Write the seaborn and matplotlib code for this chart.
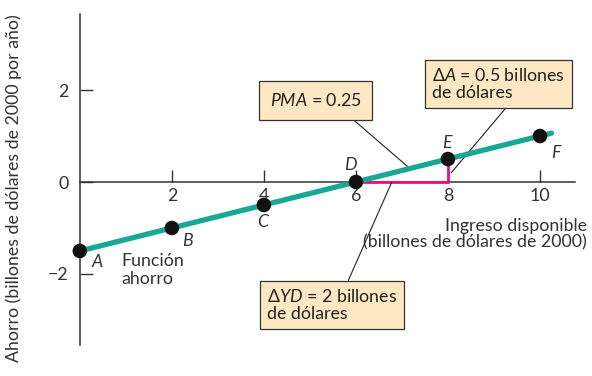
import numpy as np
import pandas as pd
import matplotlib.pyplot as plt
import seaborn as sns

# Savings function data (billions of 2000 dollars)
points = ["A", "B", "C", "D", "E", "F"]
income = [0, 2, 4, 6, 8, 10]
saving = [-1.5, -1.0, -0.5, 0.0, 0.5, 1.0]
x_ticks = [2, 4, 6, 8, 10]
y_ticks = [-2, 0, 2]

df = pd.DataFrame({"punto": points, "ingreso": income, "ahorro": saving})

sns.set_theme(style="white")
plt.rcParams["font.family"] = ["Lato", "DejaVu Sans"]
plt.rcParams["mathtext.fontset"] = "custom"
plt.rcParams["mathtext.it"] = "Lato:italic"
plt.rcParams["mathtext.rm"] = "Lato"

teal = "#19a894"
pink = "#e6108a"
box_fc = "#fde8c3"
fs = 12.8

fig, ax = plt.subplots(figsize=(5.92, 3.76), dpi=100)
fig.subplots_adjust(left=0.1115, right=0.986, bottom=0.039, top=0.999)

# extend the line slightly past F along its own slope
slope = (saving[-1] - saving[-2]) / (income[-1] - income[-2])
ext_x = income + [income[-1] + 0.25]
ext_y = saving + [saving[-1] + 0.25 * slope]
sns.lineplot(x=ext_x, y=ext_y, color=teal, lw=3.8, ax=ax, zorder=3.5)

# change in income / change in saving
ax.plot([income[3], income[4]], [saving[3], saving[3]], color=pink, lw=2, zorder=3)
ax.plot([income[4], income[4]], [saving[3], saving[4]], color=pink, lw=2, zorder=3)

sns.scatterplot(data=df, x="ingreso", y="ahorro", s=110, color="#111111",
                edgecolor="none", ax=ax, zorder=4, legend=False, clip_on=False)

label_pos = {"A": (0.37, -1.74), "B": (2.33, -1.28), "C": (3.98, -0.87),
             "D": (5.87, 0.37), "E": (7.98, 0.85), "F": (10.35, 0.63)}
for p in points:
    lx, ly = label_pos[p]
    ax.text(lx, ly, p, style="italic", fontsize=fs, ha="center",
            va="center", color="#333333")

ax.text(0.91, -1.91, "Función\nahorro", fontsize=fs, ha="left", va="center",
        color="#333333", linespacing=1.15)

# axes through origin
ax.set_xlim(-0.3, 10.95)
ax.set_ylim(-3.9, 3.95)
ax.spines["left"].set_position(("data", 0))
ax.spines["bottom"].set_position(("data", 0))
ax.spines["left"].set_bounds(-3.55, 3.65)
ax.spines["bottom"].set_bounds(0, 10.75)
for s in ["top", "right"]:
    ax.spines[s].set_visible(False)
for s in ["left", "bottom"]:
    ax.spines[s].set_color("#333333")
    ax.spines[s].set_linewidth(1.1)

ax.set_xticks(x_ticks)
ax.set_yticks(y_ticks)
ax.set_yticklabels(["\u22122", "0", "2"])
ax.tick_params(axis="x", direction="in", length=9, width=1, color="#333333",
               labelsize=fs, pad=4, labelcolor="#333333", bottom=True)
ax.tick_params(axis="y", direction="in", length=9, width=1, color="#333333",
               labelsize=fs, pad=8, labelcolor="#333333", left=True)
ax.set_xlabel("")
ax.set_ylabel("")

ax.text(11.02, -1.14, "Ingreso disponible\n(billones de dólares de 2000)",
        fontsize=fs, ha="right", va="center", color="#333333", linespacing=1.05)
fig.text(0.024, 0.5, "Ahorro (billones de dólares de 2000 por año)",
         rotation=90, fontsize=fs, ha="center", va="center", color="#333333")

bbox1 = dict(boxstyle="square,pad=0.6", fc=box_fc, ec="#333333", lw=0.9)
bbox2 = dict(boxstyle="square,pad=0.4", fc=box_fc, ec="#333333", lw=0.9)

ax.annotate("$PMA$ = 0.25", xy=(7.13, 0.33), xytext=(5.12, 1.77),
            fontsize=fs, ha="center", va="center", color="#222222", bbox=bbox1,
            arrowprops=dict(arrowstyle="-", color="#222222", lw=0.8,
                            shrinkA=0, shrinkB=0, relpos=(0.78, 0.0)))
ax.annotate("$\\Delta A$ = 0.5 billones\nde dólares", xy=(8.07, 0.2),
            xytext=(9.1, 2.13), fontsize=fs, ha="center", va="center",
            color="#222222", bbox=bbox2, linespacing=1.05, multialignment="left",
            arrowprops=dict(arrowstyle="-", color="#222222", lw=0.8,
                            shrinkA=0, shrinkB=0, relpos=(0.6, 0.0)))
ax.annotate("$\\Delta YD$ = 2 billones\nde dólares", xy=(6.78, 0.0),
            xytext=(5.48, -2.67), fontsize=fs, ha="center", va="center",
            color="#222222", bbox=bbox2, linespacing=1.05, multialignment="left",
            arrowprops=dict(arrowstyle="-", color="#222222", lw=0.8,
                            shrinkA=0, shrinkB=0, relpos=(0.6, 1.0)))

fig.savefig("out.png", dpi=100, facecolor="white")
